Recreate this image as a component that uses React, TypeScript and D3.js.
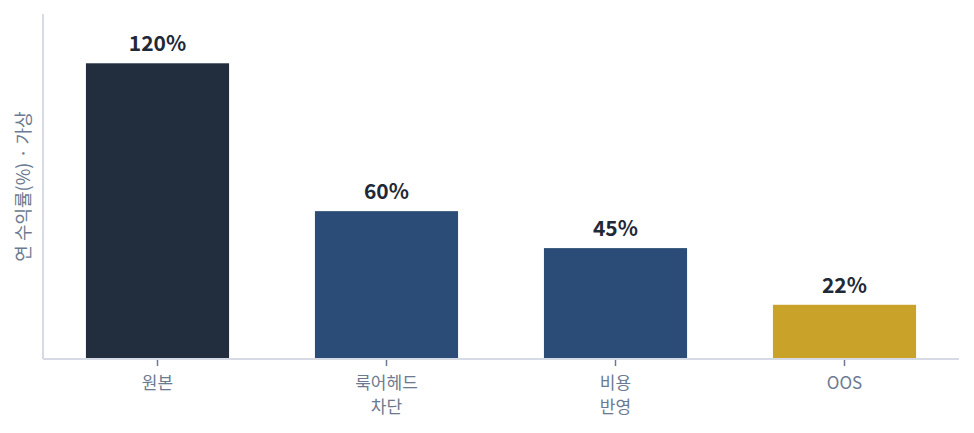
import React from "react";
import * as d3 from "d3";

const categories = ["원본", "룩어헤드\n차단", "비용\n반영", "OOS"];
const values = [120, 60, 45, 22];
const valueLabels = ["120%", "60%", "45%", "22%"];
const barColors = ["#222d3d", "#2b4c77", "#2b4c77", "#c9a229"];
const yDomain = [0, 140];
const yTitle = "연 수익률(%) · 가상";

const W = 974;
const H = 433;
const margin = { left: 43, right: 15, top: 14, bottom: 74 };
const FONT = "'Noto Sans CJK KR', 'Noto Sans', sans-serif";

export default function App() {
  const x = d3
    .scaleBand<string>()
    .domain(categories)
    .range([margin.left, W - margin.right])
    .paddingInner(0.375)
    .paddingOuter(0.1875);
  const y = d3
    .scaleLinear()
    .domain(yDomain)
    .range([H - margin.bottom, margin.top]);
  const y0 = y(0);

  return (
    <svg
      width={W}
      height={H}
      style={{ position: "absolute", left: 0, top: 0, background: "#fff" }}
    >
      {categories.map((c, i) => (
        <rect
          key={c}
          x={x(c)}
          y={y(values[i])}
          width={x.bandwidth()}
          height={y0 - y(values[i])}
          fill={barColors[i]}
        />
      ))}
      <line x1={margin.left} x2={margin.left} y1={margin.top} y2={y0} stroke="#d5dae5" strokeWidth={2} />
      <line x1={margin.left} x2={W - margin.right} y1={y0} y2={y0} stroke="#d5dae5" strokeWidth={2} />
      {categories.map((c, i) => {
        const cx = (x(c) as number) + x.bandwidth() / 2;
        const lines = c.split("\n");
        return (
          <g key={"t" + c}>
            <line x1={cx} x2={cx} y1={y0 + 1} y2={y0 + 7} stroke="#6b7a90" strokeWidth={1.5} />
            <text
              x={cx}
              y={y0 + 30}
              textAnchor="middle"
              fontFamily={FONT}
              fontSize={17}
              fill="#6b7a90"
            >
              {lines.map((l, j) => (
                <tspan key={j} x={cx} dy={j === 0 ? 0 : 23.5}>
                  {l}
                </tspan>
              ))}
            </text>
            <text
              x={cx}
              y={y(values[i]) - 12}
              textAnchor="middle"
              fontFamily={FONT}
              fontSize={21}
              fontWeight={600}
              fill="#1f2937"
            >
              {valueLabels[i]}
            </text>
          </g>
        );
      })}
      <text
        transform={`translate(30, ${(margin.top + y0) / 2}) rotate(-90)`}
        textAnchor="middle"
        fontFamily={FONT}
        fontSize={18}
        fill="#6b7a90"
      >
        {yTitle}
      </text>
    </svg>
  );
}
